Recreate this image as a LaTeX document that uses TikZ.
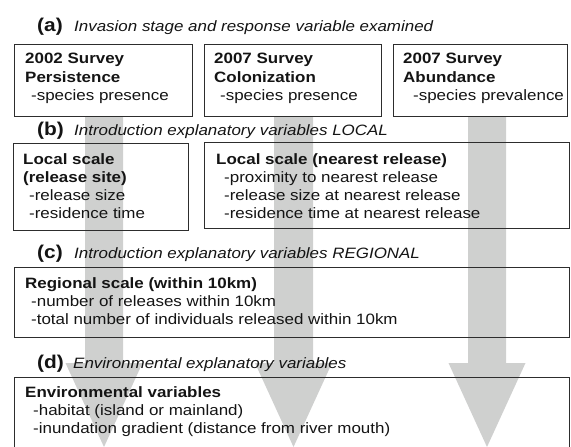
\documentclass[tikz,border=0pt]{standalone}
\usepackage{fontspec}
\setmainfont{Liberation Sans}[FakeStretch=1.13]
\definecolor{arrc}{RGB}{207,208,207}
\definecolor{boxc}{RGB}{45,45,45}
\definecolor{txtc}{RGB}{20,20,20}
\begin{document}
\begin{tikzpicture}[x=1pt,y=-1pt,
  box/.style={draw=boxc, line width=0.9pt, inner sep=0pt, outer sep=0pt, anchor=north west},
  txt/.style={anchor=base west, inner sep=0pt, text=txtc, font=\fontsize{15}{18}\selectfont},
  btxt/.style={txt, font=\fontsize{15}{18}\selectfont\bfseries},
  itxt/.style={txt, font=\fontsize{15}{18}\selectfont\itshape},
  hdr/.style={txt, font=\fontsize{18.5}{20}\selectfont\bfseries},
  blockarrow/.style={fill=arrc, draw=none}]
\useasboundingbox (0,0) rectangle (571,447);
\clip (0,0) rectangle (571,447);
% block arrows
\fill[blockarrow] (85,116) -- (123,116) -- (123,363) -- (142.5,363) -- (104,447) -- (65.5,363) -- (85,363) -- cycle;
\fill[blockarrow] (274,116) -- (313,116) -- (313,363) -- (332,363) -- (293.5,447) -- (255,363) -- (274,363) -- cycle;
\fill[blockarrow] (468,116) -- (506,116) -- (506,363) -- (525.5,363) -- (487,447) -- (448.5,363) -- (468,363) -- cycle;
% (a)
\node[hdr] (ha) at (37,31) {(a)};
\node[itxt] (ta) at (74,31) {Invasion stage and response variable examined};
\node[box, minimum width=178pt, minimum height=72pt] (A1) at (14,44) {};
\node[box, minimum width=177pt, minimum height=72pt] (A2) at (204,44) {};
\node[box, minimum width=174pt, minimum height=72pt] (A3) at (393,44) {};
\node[btxt] (a11) at (25,63) {2002 Survey};
\node[btxt] (a12) at (25,82) {Persistence};
\node[txt]  (a13) at (31,100) {-species presence};
\node[btxt] (a21) at (214,63) {2007 Survey};
\node[btxt] (a22) at (214,82) {Colonization};
\node[txt]  (a23) at (220,100) {-species presence};
\node[btxt] (a31) at (403,63) {2007 Survey};
\node[btxt] (a32) at (403,82) {Abundance};
\node[txt]  (a33) at (413,100) {-species prevalence};
% (b)
\node[hdr] (hb) at (37,135) {(b)};
\node[itxt] (tb) at (74,135) {Introduction explanatory variables LOCAL};
\node[box, minimum width=175pt, minimum height=87pt] (B1) at (13,143) {};
\node[box, minimum width=365pt, minimum height=86pt] (B2) at (204,142) {};
\node[btxt] (b11) at (23,164) {Local scale};
\node[btxt] (b12) at (23,182) {(release site)};
\node[txt]  (b13) at (29,200) {-release size};
\node[txt]  (b14) at (29,218) {-residence time};
\node[btxt] (b21) at (216,164) {Local scale (nearest release)};
\node[txt]  (b22) at (224,182) {-proximity to nearest release};
\node[txt]  (b23) at (224,200) {-release size at nearest release};
\node[txt]  (b24) at (224,218) {-residence time at nearest release};
% (c)
\node[hdr] (hc) at (37,258) {(c)};
\node[itxt] (tc) at (74,258) {Introduction explanatory variables REGIONAL};
\node[box, minimum width=555pt, minimum height=70pt] (C1) at (14,267) {};
\node[btxt] (c11) at (25,288) {Regional scale (within 10km)};
\node[txt]  (c12) at (31,306) {-number of releases within 10km};
\node[txt]  (c13) at (31,324) {-total number of individuals released within 10km};
% (d)
\node[hdr] (hd) at (37,368) {(d)};
\node[itxt] (td) at (73,368) {Environmental explanatory variables};
\node[box, minimum width=555pt, minimum height=80pt] (D1) at (14,377) {};
\node[btxt] (d11) at (25,397) {Environmental variables};
\node[txt]  (d12) at (33,415) {-habitat (island or mainland)};
\node[txt]  (d13) at (33,433) {-inundation gradient (distance from river mouth)};
\end{tikzpicture}
\end{document}
